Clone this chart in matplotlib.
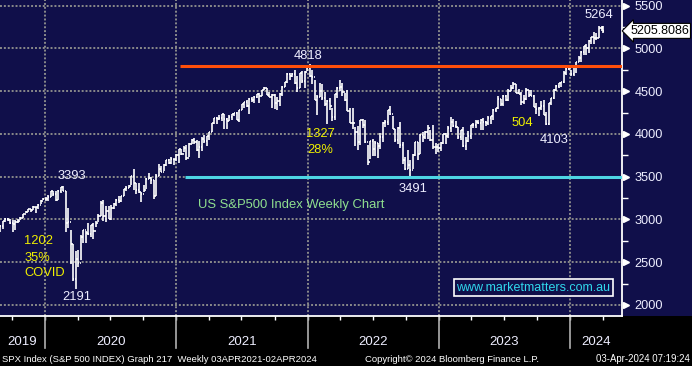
import numpy as np
import matplotlib
matplotlib.use("Agg")
import matplotlib.pyplot as plt
import matplotlib.dates as mdates
import matplotlib.transforms as mtransforms
from matplotlib.patches import Rectangle
import datetime as dt

plt.rcParams['font.family'] = ['Liberation Sans', 'DejaVu Sans']

# weekly SPX bars (week ending date) - close / high / low
start_week = dt.date(2019, 8, 30)

close_2019 = [2926, 2979, 3007, 2992, 2962, 2952, 2970, 2986, 3023, 3067, 3093, 3120,
              3110, 3141, 3146, 3169, 3221, 3240]
high_2019 = [2940, 2985, 3021, 3022, 3002, 2993, 2993, 3008, 3027, 3067, 3097, 3121,
             3127, 3154, 3150, 3183, 3226, 3248]
low_2019 = [2853, 2891, 2969, 2978, 2946, 2856, 2874, 2959, 2991, 3023, 3074, 3084,
            3091, 3115, 3070, 3123, 3184, 3223]

close_2020 = [3235, 3265, 3330, 3295, 3226, 3328, 3380, 3338, 2954, 2972, 2711, 2305,
              2541, 2489, 2790, 2875, 2837, 2831, 2930, 2864, 2955, 3044, 3194, 3041,
              3098, 3009, 3130, 3185, 3225, 3216, 3271, 3351, 3373, 3397, 3508, 3427,
              3341, 3319, 3298, 3348, 3477, 3484, 3465, 3270, 3510, 3585, 3558, 3638,
              3699, 3663, 3709, 3703, 3756]
high_2020 = [3258, 3282, 3337, 3338, 3333, 3348, 3385, 3393, 3337, 3137, 2882, 2718,
             2637, 2642, 2819, 2880, 2868, 2955, 2931, 2955, 2981, 3068, 3212, 3233,
             3155, 3154, 3165, 3198, 3238, 3280, 3272, 3352, 3387, 3399, 3509, 3588,
             3425, 3428, 3320, 3398, 3482, 3549, 3502, 3466, 3529, 3646, 3629, 3645,
             3699, 3712, 3726, 3711, 3760]
low_2020 = [3212, 3214, 3263, 3280, 3214, 3223, 3315, 3328, 2855, 2901, 2478, 2280,
            2192, 2447, 2521, 2725, 2727, 2822, 2797, 2767, 2909, 2969, 3044, 2984,
            2965, 3004, 2999, 3127, 3152, 3198, 3205, 3273, 3328, 3363, 3405, 3349,
            3293, 3313, 3209, 3324, 3361, 3474, 3416, 3234, 3279, 3511, 3552, 3570,
            3622, 3646, 3647, 3636, 3687]

close_2021 = [3825, 3768, 3841, 3714, 3887, 3934, 3907, 3811, 3842, 3943, 3913, 3975,
              4020, 4129, 4185, 4180, 4181, 4233, 4174, 4156, 4204, 4230, 4247, 4166,
              4281, 4352, 4370, 4327, 4412, 4395, 4437, 4468, 4442, 4509, 4535, 4459,
              4433, 4455, 4357, 4391, 4471, 4545, 4605, 4697, 4683, 4698, 4595, 4538,
              4712, 4620, 4725, 4766]
high_2021 = [3826, 3823, 3861, 3870, 3894, 3937, 3950, 3928, 3914, 3960, 3983, 3978,
             4020, 4129, 4191, 4194, 4219, 4238, 4237, 4188, 4219, 4234, 4249, 4261,
             4286, 4356, 4372, 4393, 4415, 4429, 4441, 4470, 4480, 4512, 4545, 4535,
             4486, 4465, 4466, 4429, 4475, 4560, 4608, 4718, 4712, 4717, 4744, 4673,
             4713, 4732, 4740, 4808]
low_2021 = [3662, 3750, 3784, 3694, 3725, 3886, 3885, 3805, 3723, 3800, 3894, 3854,
            3935, 4020, 4118, 4118, 4167, 4146, 4057, 4061, 4153, 4168, 4209, 4164,
            4144, 4279, 4307, 4319, 4233, 4373, 4368, 4424, 4368, 4441, 4513, 4457,
            4427, 4305, 4288, 4279, 4329, 4447, 4545, 4595, 4630, 4672, 4586, 4495,
            4540, 4600, 4532, 4734]

close_2022 = [4677, 4663, 4398, 4432, 4501, 4419, 4349, 4385, 4329, 4204, 4463, 4543,
              4546, 4488, 4392, 4272, 4132, 4123, 4024, 3901, 4158, 4109, 3901, 3675,
              3912, 3825, 3899, 3863, 3962, 4130, 4145, 4280, 4228, 4058, 3924, 4067,
              3873, 3693, 3586, 3640, 3583, 3753, 3901, 3771, 3993, 3965, 4026, 4072,
              3934, 3852, 3845, 3840]
high_2022 = [4818, 4749, 4632, 4453, 4595, 4590, 4490, 4402, 4416, 4300, 4465, 4546,
             4637, 4593, 4484, 4513, 4308, 4307, 4081, 4091, 4158, 4178, 4168, 3875,
             3913, 3946, 3918, 3891, 4012, 4141, 4167, 4280, 4325, 4212, 4062, 4076,
             4140, 3906, 3733, 3807, 3694, 3762, 3905, 3911, 4001, 4028, 4034, 4101,
             4052, 4101, 3891, 3878]
low_2022 = [4663, 4582, 4395, 4222, 4435, 4401, 4327, 4115, 4279, 4157, 4161, 4424,
            4507, 4450, 4381, 4267, 4128, 4062, 3859, 3810, 3875, 4074, 3900, 3637,
            3705, 3738, 3742, 3722, 3819, 3911, 4079, 4107, 4219, 4057, 3907, 3886,
            3838, 3647, 3584, 3591, 3491, 3588, 3739, 3699, 3770, 3906, 3939, 3938,
            3918, 3827, 3764, 3784]

close_2023 = [3895, 3999, 3973, 4071, 4136, 4090, 4079, 3970, 4046, 3862, 3917, 3971,
              4109, 4105, 4138, 4133, 4169, 4136, 4124, 4192, 4205, 4282, 4299, 4410,
              4348, 4450, 4399, 4505, 4536, 4582, 4478, 4464, 4370, 4406, 4516, 4457,
              4450, 4320, 4288, 4309, 4327, 4224, 4117, 4358, 4415, 4514, 4559, 4595,
              4604, 4719, 4755, 4770]
high_2023 = [3907, 4003, 4015, 4095, 4195, 4176, 4157, 4081, 4049, 4079, 3965, 4039,
             4110, 4133, 4163, 4169, 4170, 4186, 4155, 4212, 4213, 4290, 4300, 4448,
             4414, 4458, 4456, 4528, 4578, 4607, 4584, 4527, 4490, 4458, 4541, 4515,
             4511, 4461, 4358, 4311, 4385, 4394, 4255, 4366, 4415, 4521, 4567, 4598,
             4609, 4739, 4778, 4793]
low_2023 = [3802, 3877, 3886, 3949, 4018, 4079, 4074, 3944, 3928, 3847, 3809, 3901,
            3946, 4070, 4073, 4114, 4049, 4048, 4098, 4103, 4113, 4166, 4253, 4297,
            4333, 4328, 4385, 4385, 4505, 4528, 4474, 4464, 4335, 4356, 4403, 4430,
            4448, 4316, 4238, 4216, 4284, 4224, 4103, 4107, 4340, 4406, 4506, 4537,
            4546, 4592, 4694, 4751]

close_2024 = [4697, 4784, 4840, 4891, 4959, 5027, 5006, 5089, 5137, 5124, 5117, 5234,
              5254, 5206]
high_2024 = [4754, 4798, 4842, 4907, 4975, 5030, 5049, 5098, 5140, 5189, 5180, 5261,
             5264, 5263]
low_2024 = [4682, 4682, 4714, 4842, 4845, 4918, 4920, 4946, 5057, 5057, 5104, 5118,
            5203, 5183]

last_value = 5205.8086
resistance = 4818
support = 3500

year_ticks = [2019, 2020, 2021, 2022, 2023, 2024]
price_ticks = [2000, 2500, 3000, 3500, 4000, 4500, 5000, 5500]

navy = '#100f4a'
white = '#eeeeff'
yellow = '#f0f000'
lbl = 9.3

close = np.array(close_2019 + close_2020 + close_2021 + close_2022 + close_2023 + close_2024, float)
high = np.array(high_2019 + high_2020 + high_2021 + high_2022 + high_2023 + high_2024, float)
low = np.array(low_2019 + low_2020 + low_2021 + low_2022 + low_2023 + low_2024, float)
opn = np.r_[2897.0, close[:-1]]
dates = [start_week + dt.timedelta(weeks=i) for i in range(len(close))]
dates[-1] = dt.date(2024, 4, 2)
x = mdates.date2num(dates)

fig = plt.figure(figsize=(6.92, 3.66), dpi=100, facecolor=navy)
fig.patches.append(Rectangle((0, 0), 1, 50 / 366, transform=fig.transFigure,
                             facecolor='black', edgecolor='none', zorder=-5))
ax = fig.add_axes([0, 50 / 366, 622 / 692, 316 / 366])
ax.set_facecolor(navy)

x0 = mdates.date2num(dt.date(2019, 8, 29))
x1 = mdates.date2num(dt.date(2024, 5, 25))
ax.set_xlim(x0, x1)
ax.set_ylim(1871, 5567)

# grid
for p in price_ticks:
    ax.axhline(p, color='#8a8a8a', lw=1.4, ls=(0, (1, 1)), zorder=1)
for yr in year_ticks[1:]:
    ax.axvline(mdates.date2num(dt.date(yr, 1, 1)), color='#8a8a8a', lw=1.4,
               ls=(0, (1, 1)), zorder=1)

# OHLC bars
tick = 3.0
ax.vlines(x, low, high, color='white', lw=1.2, zorder=3)
ax.hlines(opn, x - tick, x, color='white', lw=1.2, zorder=3)
ax.hlines(close, x, x + tick, color='white', lw=1.2, zorder=3)

# levels
ax.hlines(resistance - 20, mdates.date2num(dt.date(2021, 1, 12)), x1,
          color='#ff4f0a', lw=2.2, zorder=4)
ax.hlines(support, mdates.date2num(dt.date(2021, 1, 26)), x1,
          color='#4ed6e4', lw=2.2, zorder=4)

# spines / axes
for s in ['left', 'top']:
    ax.spines[s].set_visible(False)
for s in ['right', 'bottom']:
    ax.spines[s].set_color('white')
    ax.spines[s].set_linewidth(1.3)

ax.yaxis.tick_right()
ax.set_yticks(price_ticks)
ax.set_yticklabels([str(p) for p in price_ticks])
ax.set_yticks(np.arange(2250, 5500, 500), minor=True)
ax.tick_params(axis='y', which='major', length=0, pad=9, labelsize=9.2, labelcolor=white)
ax.tick_params(axis='y', which='minor', length=4, width=1, color='white', direction='out')
ytr = mtransforms.blended_transform_factory(ax.transAxes, ax.transData)
ax.plot([1.007] * len(price_ticks), price_ticks, marker='>', ms=5, color='white',
        ls='none', transform=ytr, clip_on=False, zorder=5)

# x axis: quarter ticks, year separators, year labels
qdates = [dt.date(y, m, 1) for y in range(2019, 2025) for m in (1, 4, 7, 10)]
qnum = [mdates.date2num(d) for d in qdates if x0 < mdates.date2num(d) < x1]
ax.set_xticks(qnum)
ax.set_xticklabels([])
ax.tick_params(axis='x', length=3, width=1, color='white', direction='out')
xtr = mtransforms.blended_transform_factory(ax.transData, ax.transAxes)
for yr in year_ticks:
    a = max(mdates.date2num(dt.date(yr, 1, 1)), x0)
    b = min(mdates.date2num(dt.date(yr + 1, 1, 1)), x1)
    if yr > 2019:
        ax.plot([a, a], [0, -0.102], color='#b0b0b0', lw=1.2, transform=xtr, clip_on=False)
    ax.text((a + b) / 2, -0.083, str(yr), transform=xtr, ha='center', va='center',
            color=white, fontsize=9.5)

# annotations
def d(y, m, dd):
    return mdates.date2num(dt.date(y, m, dd))

ax.text(d(2020, 3, 17), 3506, '3393', color=white, fontsize=lbl, ha='center', va='center')
ax.text(d(2022, 1, 2), 4911, '4818', color=white, fontsize=lbl, ha='center', va='center')
ax.text(d(2022, 2, 5), 3998, '1327', color=yellow, fontsize=lbl, ha='center', va='center')
ax.text(d(2022, 2, 4), 3810, '28%', color=yellow, fontsize=lbl, ha='center', va='center')
ax.text(d(2022, 10, 21), 3354, '3491', color=white, fontsize=lbl, ha='center', va='center')
ax.text(d(2021, 3, 1), 3166, 'US S&P500 Index Weekly Chart', color='#8fe08f',
        fontsize=9.4, ha='left', va='center')
ax.text(d(2019, 11, 4), 2745, '1202', color=yellow, fontsize=lbl, ha='left', va='center')
ax.text(d(2019, 11, 4), 2546, '35%', color=yellow, fontsize=lbl, ha='left', va='center')
ax.text(d(2019, 11, 4), 2370, 'COVID', color=yellow, fontsize=lbl, ha='left', va='center')
ax.text(d(2020, 3, 30), 2089, '2191', color=white, fontsize=lbl, ha='center', va='center')
ax.text(d(2023, 8, 23), 4132, '504', color=yellow, fontsize=lbl, ha='center', va='center')
ax.text(d(2023, 11, 17), 3924, '4103', color=white, fontsize=lbl, ha='center', va='center')
ax.text(d(2024, 3, 21), 5388, '5264', color=white, fontsize=lbl, ha='center', va='center')

ax.text(0.857, 0.090, 'www.marketmatters.com.au', transform=ax.transAxes, color='#30d8ec',
        fontsize=9, ha='center', va='center',
        bbox=dict(boxstyle='square,pad=0.2', facecolor=navy, edgecolor='white', lw=1.2),
        zorder=6)

ax.text(1.013, last_value, '5205.8086', transform=ytr, color='black', fontsize=9,
        ha='left', va='center', clip_on=False,
        bbox=dict(boxstyle='larrow,pad=0.12', facecolor='white', edgecolor='black', lw=0.8),
        zorder=7)

# footer
fy = 1 - 359 / 366
fig.text(2 / 692, fy, 'SPX Index (S&P 500 INDEX) Graph 217  Weekly 03APR2021-02APR2024',
         color='white', fontsize=6.8, ha='left', va='center')
fig.text(365 / 692, fy, 'Copyright\u00a9 2024 Bloomberg Finance L.P.',
         color='white', fontsize=6.8, ha='left', va='center')
fig.text(690 / 692, fy, '03-Apr-2024 07:19:24',
         color='white', fontsize=6.9, ha='right', va='center')

fig.savefig('out.png', dpi=100, facecolor=navy)
